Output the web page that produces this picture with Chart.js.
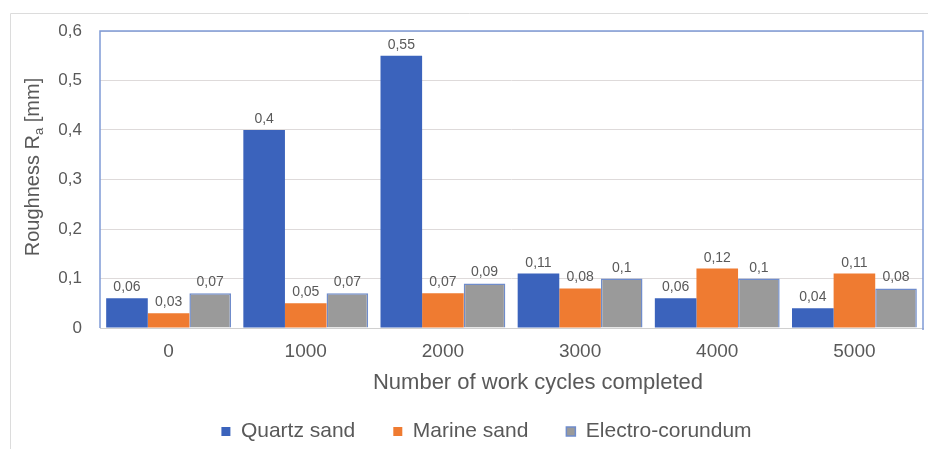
<!DOCTYPE html>
<html>
<head>
<meta charset="utf-8">
<script src="https://cdn.jsdelivr.net/npm/chart.js@4.4.1/dist/chart.umd.min.js"></script>
<style>
  html, body { margin: 0; padding: 0; background: #ffffff; }
  #wrap { width: 928px; height: 449px; }
</style>
</head>
<body>
<div id="wrap"><canvas id="c" width="928" height="449"></canvas></div>
<script>
// Surface roughness after repeated work cycles, per abrasive
const cycles = ['0', '1000', '2000', '3000', '4000', '5000'];
const quartzSand = [0.06, 0.40, 0.55, 0.11, 0.06, 0.04];
const marineSand = [0.03, 0.05, 0.07, 0.08, 0.12, 0.11];
const electroCorundum = [0.07, 0.07, 0.09, 0.10, 0.10, 0.08];
const yTicks = [0, 0.1, 0.2, 0.3, 0.4, 0.5, 0.6];
const xTitle = 'Number of work cycles completed';

const FONT = '"Liberation Sans", Arial, sans-serif';
const TEXT = '#595959';

const comma = v => (v === 0 ? '0' : String(Math.round(v * 100) / 100).replace('.', ','));

// Outer frame, plot-area border and axis titles
const decor = {
  id: 'decor',
  beforeDraw(chart) {
    const ctx = chart.ctx;
    ctx.save();
    ctx.strokeStyle = '#dcdcdc';
    ctx.lineWidth = 1;
    ctx.beginPath();
    ctx.moveTo(10.5, 449);
    ctx.lineTo(10.5, 13.5);
    ctx.lineTo(928, 13.5);
    ctx.stroke();
    ctx.restore();
  },
  afterDraw(chart) {
    const ctx = chart.ctx;
    const a = chart.chartArea;
    ctx.save();
    ctx.strokeStyle = '#7f9bd6';
    ctx.lineWidth = 1.5;
    ctx.beginPath();
    ctx.moveTo(a.left, a.bottom);
    ctx.lineTo(a.left, a.top);
    ctx.lineTo(a.right, a.top);
    ctx.lineTo(a.right, a.bottom + 2);
    ctx.stroke();

    // x axis title
    ctx.fillStyle = TEXT;
    ctx.font = '22px ' + FONT;
    ctx.textAlign = 'center';
    ctx.textBaseline = 'middle';
    ctx.fillText(xTitle, 538, 383);

    // y axis title: "Roughness R" + subscript "a" + " [mm]"
    ctx.translate(33, 167);
    ctx.rotate(-Math.PI / 2);
    const main = '20px ' + FONT, sub = '13px ' + FONT;
    ctx.font = main;
    const p1 = 'Roughness R', p3 = ' [mm]';
    const w1 = ctx.measureText(p1).width, w3 = ctx.measureText(p3).width;
    ctx.font = sub;
    const w2 = ctx.measureText('a').width;
    let x = -(w1 + w2 + w3) / 2;
    ctx.font = main;
    ctx.textAlign = 'left';
    ctx.fillText(p1, x, 0);
    x += w1;
    ctx.font = sub;
    ctx.fillText('a', x, 6);
    x += w2;
    ctx.font = main;
    ctx.fillText(p3, x, 0);
    ctx.restore();
  }
};

// Value labels above each bar
const valueLabels = {
  id: 'valueLabels',
  afterDatasetsDraw(chart) {
    const ctx = chart.ctx;
    ctx.save();
    ctx.font = '14px ' + FONT;
    ctx.fillStyle = TEXT;
    ctx.textAlign = 'center';
    ctx.textBaseline = 'alphabetic';
    chart.data.datasets.forEach((ds, i) => {
      const meta = chart.getDatasetMeta(i);
      meta.data.forEach((bar, j) => {
        ctx.fillText(comma(ds.data[j]), bar.x, bar.y - 7);
      });
    });
    ctx.restore();
  }
};

// Place the legend row a little lower and centred under the plot
const legendPlace = {
  id: 'legendPlace',
  afterLayout(chart) {
    const lg = chart.legend;
    if (!lg) return;
    const dx = 25;
    lg.left += dx; lg.right += dx;
    lg.top = 383; lg.bottom = 449;
    lg.height = lg.bottom - lg.top;
  }
};

new Chart(document.getElementById('c'), {
  type: 'bar',
  data: {
    labels: cycles,
    datasets: [
      { label: 'Quartz sand', data: quartzSand, backgroundColor: '#3b63bc', borderColor: '#3b63bc', borderWidth: 0 },
      { label: 'Marine sand', data: marineSand, backgroundColor: '#ef7b31', borderWidth: 0 },
      { label: 'Electro-corundum', data: electroCorundum, backgroundColor: '#9a9a9a', borderColor: '#6f8ccb', borderWidth: 1.5 }
    ]
  },
  options: {
    responsive: false,
    animation: false,
    devicePixelRatio: 1,
    layout: { padding: { top: 31, right: 5, left: 0, bottom: 0 } },
    datasets: { bar: { categoryPercentage: 0.91, barPercentage: 1 } },
    plugins: {
      tooltip: { enabled: false },
      legend: {
        position: 'bottom',
        maxHeight: 40,
        labels: {
          font: { family: FONT, size: 21 },
          color: TEXT,
          boxWidth: 9,
          boxHeight: 9,
          padding: 38
        }
      }
    },
    scales: {
      x: {
        grid: { display: false, drawTicks: false },
        border: { display: true, color: '#d0d0d0', width: 1 },
        ticks: { font: { family: FONT, size: 19 }, color: TEXT, padding: 12 },
        title: { display: false },
        afterFit(s) { s.height = 81; }
      },
      y: {
        min: 0,
        max: 0.6,
        afterBuildTicks(s) { s.ticks = yTicks.map(v => ({ value: v })); },
        grid: { color: '#dedada', lineWidth: 1, drawTicks: false },
        border: { display: false },
        ticks: {
          font: { family: FONT, size: 17 },
          color: TEXT,
          padding: 18,
          callback: v => comma(v)
        },
        afterFit(s) { s.width = 100; }
      }
    }
  },
  plugins: [decor, valueLabels, legendPlace]
});
</script>
</body>
</html>
